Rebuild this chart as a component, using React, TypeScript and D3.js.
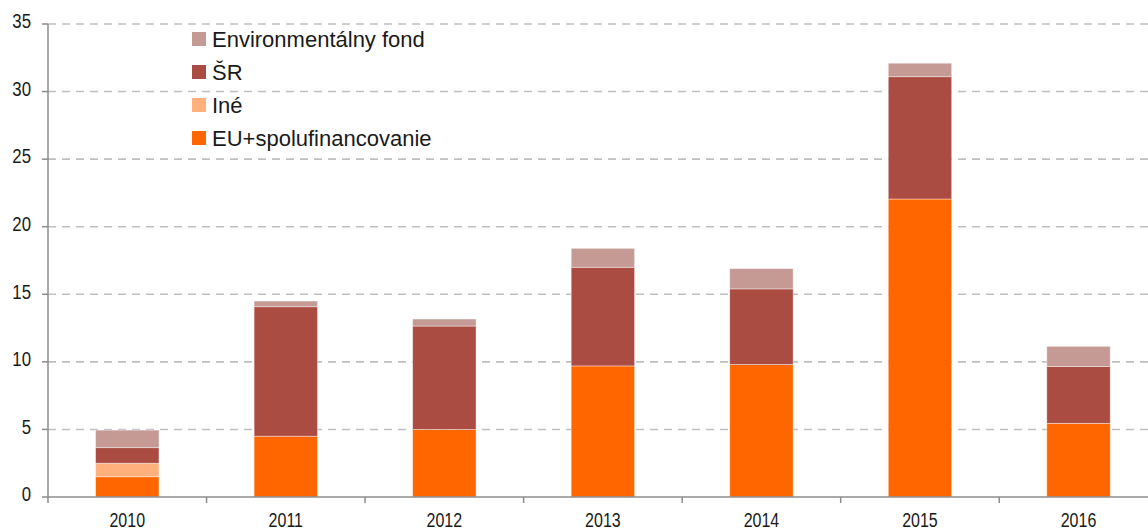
import React from "react";
import * as d3 from "d3";

const years = ["2010", "2011", "2012", "2013", "2014", "2015", "2016"];
const euValues = [1.5, 4.5, 5.0, 9.7, 9.8, 22.05, 5.45];
const ineValues = [1.0, 0, 0, 0, 0, 0, 0];
const srValues = [1.15, 9.58, 7.65, 7.3, 5.6, 9.05, 4.2];
const envValues = [1.3, 0.42, 0.52, 1.4, 1.5, 1.0, 1.5];
const yTicks = [0, 5, 10, 15, 20, 25, 30, 35];

const seriesKeys = ["eu", "ine", "sr", "env"];
const seriesColors: Record<string, string> = {
  eu: "#ff6600",
  ine: "#ffb07c",
  sr: "#ab4c42",
  env: "#c59a94",
};
const legendItems = [
  { key: "env", label: "Environmentálny fond" },
  { key: "sr", label: "ŠR" },
  { key: "ine", label: "Iné" },
  { key: "eu", label: "EU+spolufinancovanie" },
];

export default function App() {
  const W = 1148, H = 531;
  const x0 = 48, bandW = 158.54;
  const yTop = 24, yBottom = 497;
  const table = years.map((yr, i) => ({
    year: yr,
    eu: euValues[i],
    ine: ineValues[i],
    sr: srValues[i],
    env: envValues[i],
  }));
  const stack = d3.stack<any>().keys(seriesKeys)(table);
  const x = d3.scaleBand().domain(years).range([x0, x0 + bandW * years.length]).paddingInner(0.6).paddingOuter(0.3);
  const y = d3.scaleLinear().domain([0, 35]).range([yBottom, yTop]);
  const font = "Liberation Sans, Arial, sans-serif";

  return (
    <svg width={W} height={H} style={{ position: "absolute", left: 0, top: 0 }}>
      <rect width={W} height={H} fill="#fff" />
      {yTicks.filter((t) => t > 0).map((t) => (
        <line key={t} x1={x0} x2={W} y1={y(t)} y2={y(t)} stroke="#bfbfbf" strokeWidth={1.6} strokeDasharray="8,6" />
      ))}
      {stack.map((s) => (
        <g key={s.key}>
          {s.map((d, i) => {
            const h = y(d[0]) - y(d[1]);
            if (h <= 0) return null;
            return (
              <rect
                key={i}
                x={x(years[i])}
                y={y(d[1])}
                width={x.bandwidth()}
                height={h}
                fill={seriesColors[s.key]}
                stroke="#ffffff"
                strokeOpacity={0.5}
                strokeWidth={0.8}
              />
            );
          })}
        </g>
      ))}
      <line x1={x0} x2={x0} y1={yTop} y2={yBottom} stroke="#8c8c8c" strokeWidth={1.5} />
      <line x1={x0} x2={W} y1={yBottom} y2={yBottom} stroke="#8c8c8c" strokeWidth={1.5} />
      {yTicks.map((t) => (
        <g key={t}>
          <line x1={x0 - 6} x2={x0} y1={y(t)} y2={y(t)} stroke="#8c8c8c" strokeWidth={1.5} />
          <text
            transform={`translate(31, ${y(t) - 3}) scale(0.8, 1)`}
            dy="0.35em"
            textAnchor="end"
            fontFamily={font}
            fontSize={21}
            fill="#1a1a1a"
          >
            {t}
          </text>
        </g>
      ))}
      {years.map((yr, i) => (
        <g key={yr}>
          <line x1={x0 + bandW * i} x2={x0 + bandW * i} y1={yBottom} y2={yBottom + 6} stroke="#8c8c8c" strokeWidth={1.5} />
          <text
            transform={`translate(${(x(yr) as number) + x.bandwidth() / 2}, 527) scale(0.8, 1)`}
            textAnchor="middle"
            fontFamily={font}
            fontSize={20}
            fill="#1a1a1a"
          >
            {yr}
          </text>
        </g>
      ))}
      {legendItems.map((it, i) => (
        <g key={it.key} transform={`translate(192, ${32 + i * 33})`}>
          <rect x={0} y={0} width={14} height={14} fill={seriesColors[it.key]} />
          <text x={20} y={7} dy="0.36em" fontFamily={font} fontSize={22} fill="#1a1a1a">
            {it.label}
          </text>
        </g>
      ))}
    </svg>
  );
}
